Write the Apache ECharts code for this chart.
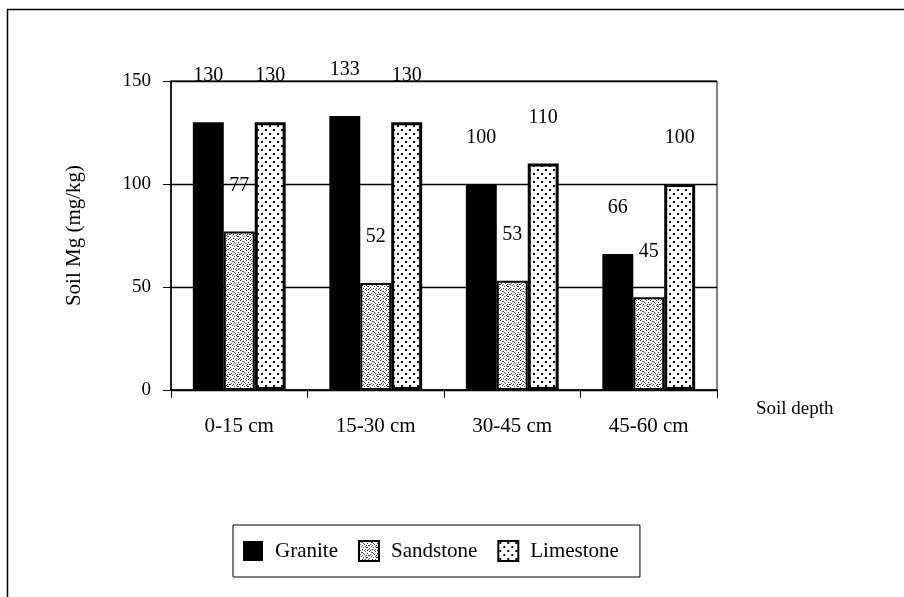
<!DOCTYPE html>
<html><head><meta charset="utf-8">
<script src="https://cdn.jsdelivr.net/npm/echarts@6/dist/echarts.min.js"></script>
<style>html,body{margin:0;padding:0;background:#fff}#c{width:904px;height:597px}</style>
</head><body><div id="c"></div>
<script>
const categories = ['0-15 cm', '15-30 cm', '30-45 cm', '45-60 cm'];
const granite = [130, 133, 100, 66];
const sandstone = [77, 52, 53, 45];
const limestone = [130, 130, 110, 100];
const yTicks = [0, 50, 100, 150];

const FONT = '"Liberation Serif", "Times New Roman", serif';

function sandTile() {
  const c = document.createElement('canvas'); c.width = 10; c.height = 10;
  const g = c.getContext('2d');
  g.fillStyle = '#fff'; g.fillRect(0, 0, 10, 10);
  const pts = [[0,0],[3,1],[6,0],[8,2],[1,3],[5,3],[9,4],[2,5],[4,6],[7,6],[0,7],[6,8],[3,8],[9,8],[1,9],[8,9],[4,2],[2,1],[7,4],[5,9],[3,4],[8,6],[0,4],[6,5]];
  pts.forEach((p, i) => { g.fillStyle = i % 3 === 0 ? '#222' : '#555'; g.fillRect(p[0], p[1], 1, 1); });
  return c;
}
function limeTile() {
  const c = document.createElement('canvas'); c.width = 8; c.height = 8;
  const g = c.getContext('2d');
  g.fillStyle = '#fff'; g.fillRect(0, 0, 8, 8);
  g.fillStyle = '#111';
  g.fillRect(1, 1, 2, 2); g.fillRect(5, 5, 2, 2);
  return c;
}

const labelCommon = { show: true, position: 'top', distance: 36, color: '#000', fontFamily: FONT, fontSize: 20 };

const chart = echarts.init(document.getElementById('c'), null, { renderer: 'canvas' });
chart.setOption({
  animation: false,
  backgroundColor: '#fff',
  graphic: [{
    type: 'rect', shape: { x: 7.5, y: 9.5, width: 1000, height: 1000 },
    style: { fill: 'none', stroke: '#000', lineWidth: 1.5 }, silent: true
  }],
  grid: { left: 171, right: 187, top: 81, bottom: 207, show: true, borderColor: '#000', borderWidth: 1 },
  legend: {
    left: 233, top: 525,
    padding: [15, 21, 15, 10],
    borderColor: '#000', borderWidth: 1,
    icon: 'rect',
    itemWidth: 20, itemHeight: 20, itemGap: 20,
    textStyle: { fontFamily: FONT, fontSize: 21, color: '#000', padding: [0, 0, 0, 7] },
    data: ['Granite', 'Sandstone', 'Limestone']
  },
  xAxis: {
    type: 'category', data: categories,
    boundaryGap: true,
    name: 'Soil depth', nameLocation: 'end', nameGap: 39,
    nameTextStyle: { fontFamily: FONT, fontSize: 19, color: '#000', verticalAlign: 'top', padding: [10, 0, 0, 0] },
    axisLine: { lineStyle: { color: '#000', width: 1.5 } },
    axisTick: { show: true, inside: false, length: 8, alignWithLabel: false, lineStyle: { color: '#000' } },
    axisLabel: { margin: 26, fontFamily: FONT, fontSize: 21, color: '#000' }
  },
  yAxis: {
    type: 'value', min: 0, max: 150, interval: 50,
    name: 'Soil Mg (mg/kg)', nameLocation: 'middle', nameGap: 86, nameRotate: 90,
    nameTextStyle: { fontFamily: FONT, fontSize: 21, color: '#000' },
    axisLine: { show: true, lineStyle: { color: '#000', width: 1.5 } },
    axisTick: { show: true, length: 8, lineStyle: { color: '#000' } },
    axisLabel: { margin: 20, fontFamily: FONT, fontSize: 19, color: '#000',
      formatter: v => yTicks.includes(v) ? String(v) : '' },
    splitLine: { show: true, lineStyle: { color: '#000', width: 1.3 } }
  },
  series: [
    { name: 'Granite', type: 'bar', data: granite, barGap: '0%', barCategoryGap: '32%',
      itemStyle: { color: '#000', borderColor: '#000', borderWidth: 0 }, label: labelCommon },
    { name: 'Sandstone', type: 'bar', data: sandstone,
      itemStyle: { color: { image: sandTile(), repeat: 'repeat' }, borderColor: '#000', borderWidth: 2 }, label: labelCommon },
    { name: 'Limestone', type: 'bar', data: limestone,
      itemStyle: { color: { image: limeTile(), repeat: 'repeat' }, borderColor: '#000', borderWidth: 3 }, label: labelCommon }
  ]
});
</script></body></html>
